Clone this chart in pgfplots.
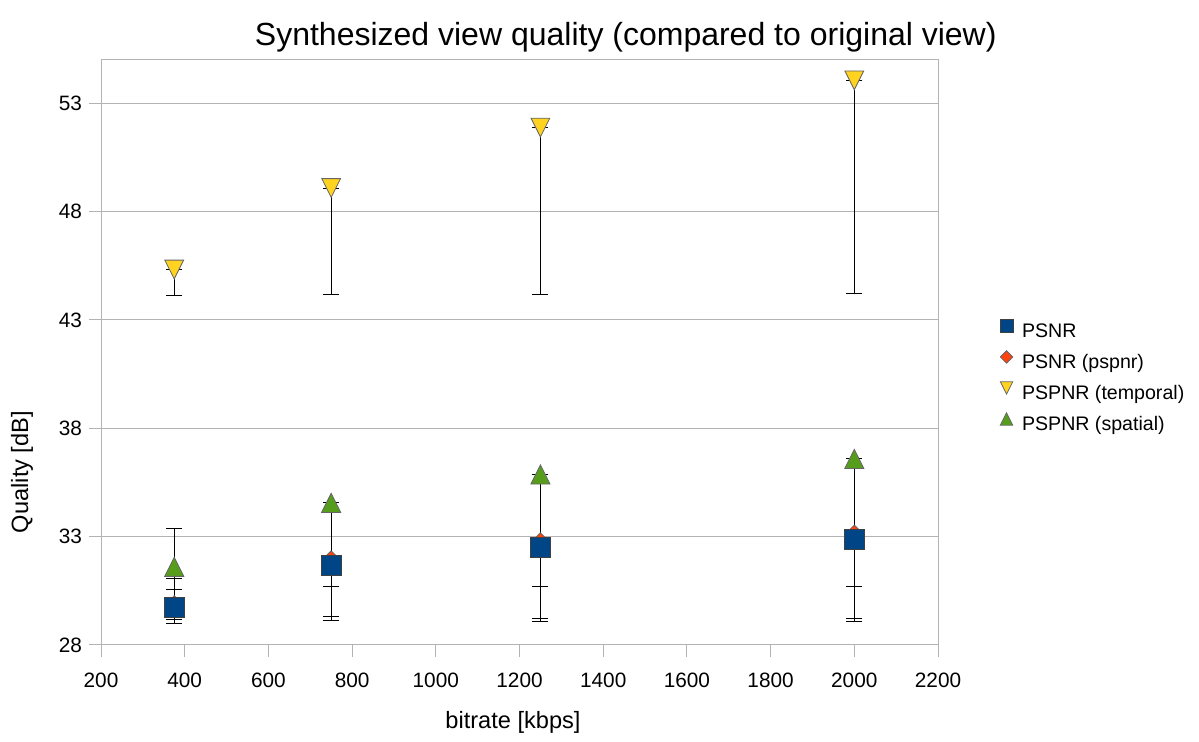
\documentclass[border=0pt]{standalone}
\usepackage{pgfplots}
\pgfplotsset{compat=1.18}
\usepackage{fontspec}
\setmainfont{Liberation Sans}
\definecolor{psnrblue}{HTML}{004586}
\definecolor{pspred}{HTML}{FF420E}
\definecolor{tempyel}{HTML}{FFD320}
\definecolor{spagreen}{HTML}{579D1C}
\definecolor{gridgray}{HTML}{B3B3B3}
\pgfdeclareplotmark{tup}{%
  \pgfpathmoveto{\pgfqpoint{0pt}{\pgfplotmarksize}}%
  \pgfpathlineto{\pgfqpoint{\pgfplotmarksize}{-\pgfplotmarksize}}%
  \pgfpathlineto{\pgfqpoint{-\pgfplotmarksize}{-\pgfplotmarksize}}%
  \pgfpathclose\pgfusepathqfillstroke}
\pgfdeclareplotmark{tdown}{%
  \pgfpathmoveto{\pgfqpoint{0pt}{-\pgfplotmarksize}}%
  \pgfpathlineto{\pgfqpoint{\pgfplotmarksize}{\pgfplotmarksize}}%
  \pgfpathlineto{\pgfqpoint{-\pgfplotmarksize}{\pgfplotmarksize}}%
  \pgfpathclose\pgfusepathqfillstroke}
\pgfdeclareplotmark{dmd}{%
  \pgfpathmoveto{\pgfqpoint{0pt}{\pgfplotmarksize}}%
  \pgfpathlineto{\pgfqpoint{\pgfplotmarksize}{0pt}}%
  \pgfpathlineto{\pgfqpoint{0pt}{-\pgfplotmarksize}}%
  \pgfpathlineto{\pgfqpoint{-\pgfplotmarksize}{0pt}}%
  \pgfpathclose\pgfusepathqfillstroke}
\begin{document}
\begin{tikzpicture}
\useasboundingbox (0,0) rectangle (599.5pt,371pt);
\begin{axis}[
  at={(50.5pt,48.5pt)}, anchor=south west,
  scale only axis, width=418.5pt, height=292.5pt,
  xmin=200, xmax=2200, ymin=28, ymax=55,
  xtick={200,400,...,2200}, ytick={28,33,38,43,48,53},
  tick pos=left, tick align=outside, major tick length=6pt,
  tick style={gridgray, line width=0.5pt},
  axis line style={gridgray, line width=0.5pt},
  ymajorgrids, grid style={gridgray, line width=0.5pt},
  ticklabel style={font=\fontsize{10.4}{12}\selectfont, black},
  xticklabel style={yshift=-4.5pt},
  /pgf/number format/assume math mode=true,
  /pgf/number format/1000 sep={},
  every axis title shift=0pt,
  title={Synthesized view quality (compared to original view)},
  title style={at={(axis description cs:0.627,1.0256)}, anchor=base, font=\fontsize{16}{19}\selectfont},
  xlabel={bitrate [kbps]}, ylabel={Quality [dB]},
  xlabel style={at={(axis description cs:0.4922,-0.1419)}, anchor=base, font=\fontsize{11.8}{14}\selectfont},
  ylabel style={at={(axis description cs:-0.0944,0.2957)}, anchor=center, font=\fontsize{11.8}{14}\selectfont},
  legend style={at={(axis description cs:1.0741,0.4573)}, anchor=west, draw=none, fill=none,
    inner sep=0pt, outer sep=0pt, row sep=3.5pt, column sep=4.5pt,
    font=\fontsize{9.8}{11}\selectfont,
    nodes={inner sep=0pt, text height=9.5pt, text depth=2.5pt, anchor=base west}},
  legend cell align=left,
  legend image code/.code={\draw[#1] plot coordinates {(0pt,6pt)};},
]
% markers (z-order: diamond below square)
\addplot[forget plot, only marks, mark=dmd, mark size=4.5pt, mark options={fill=pspred, draw=black!60, line width=0.4pt}]
  coordinates {(375,29.86) (750,31.93) (1250,32.76) (2000,33.12)};
\addplot[forget plot, only marks, mark=square*, mark size=5pt, mark options={fill=psnrblue, draw=black!75, line width=0.4pt}]
  coordinates {(375,29.75) (750,31.69) (1250,32.50) (2000,32.87)};
\addplot[forget plot, only marks, mark=tdown, mark size=4.7pt, mark options={fill=tempyel, draw=black!60, line width=0.4pt}]
  coordinates {(375,45.33) (750,49.09) (1250,51.88) (2000,54.06)};
\addplot[forget plot, only marks, mark=tup, mark size=4.8pt, mark options={fill=spagreen, draw=black!60, line width=0.4pt}]
  coordinates {(375,31.61) (750,34.56) (1250,35.87) (2000,36.59)};
% error bars drawn on top
\pgfplotsset{errstyle/.style={forget plot, draw=none, mark=none,
  error bars/.cd, y dir=both, y explicit, error mark=|,
  error bar style={draw=black, line width=0.5pt},
  error mark options={draw=black, line width=0.5pt, mark size=4pt}}}
\addplot[errstyle] coordinates {
  (375,29.75) += (0,0) -= (0,0.74)
  (750,31.69) += (0,0) -= (0,2.55)
  (1250,32.50) += (0,0) -= (0,3.41)
  (2000,32.87) += (0,0) -= (0,3.80)};
\addplot[errstyle] coordinates {
  (375,29.86) += (0,1.23) -= (0,0.68)
  (750,31.93) += (0,0) -= (0,2.63)
  (1250,32.76) += (0,0) -= (0,3.53)
  (2000,33.12) += (0,0) -= (0,3.91)};
\addplot[errstyle] coordinates {
  (375,45.33) += (0,0) -= (0,1.19)
  (750,49.09) += (0,0) -= (0,4.91)
  (1250,51.88) += (0,0) -= (0,7.70)
  (2000,54.06) += (0,0) -= (0,9.85)};
\addplot[errstyle] coordinates {
  (375,31.61) += (0,1.78) -= (0,1.03)
  (750,34.56) += (0,0) -= (0,3.86)
  (1250,35.87) += (0,0) -= (0,5.17)
  (2000,36.59) += (0,0) -= (0,5.87)};
% legend
\addlegendimage{only marks, mark=square*, mark size=3.25pt, mark options={fill=psnrblue, draw=black!75, line width=0.4pt}}
\addlegendentry{PSNR}
\addlegendimage{only marks, mark=dmd, mark size=3.1pt, mark options={fill=pspred, draw=black!60, line width=0.4pt}}
\addlegendentry{PSNR (pspnr)}
\addlegendimage{only marks, mark=tdown, mark size=3.1pt, mark options={fill=tempyel, draw=black!60, line width=0.4pt}}
\addlegendentry{PSPNR (temporal)}
\addlegendimage{only marks, mark=tup, mark size=3.1pt, mark options={fill=spagreen, draw=black!60, line width=0.4pt}}
\addlegendentry{PSPNR (spatial)}
\end{axis}
\end{tikzpicture}
\end{document}
